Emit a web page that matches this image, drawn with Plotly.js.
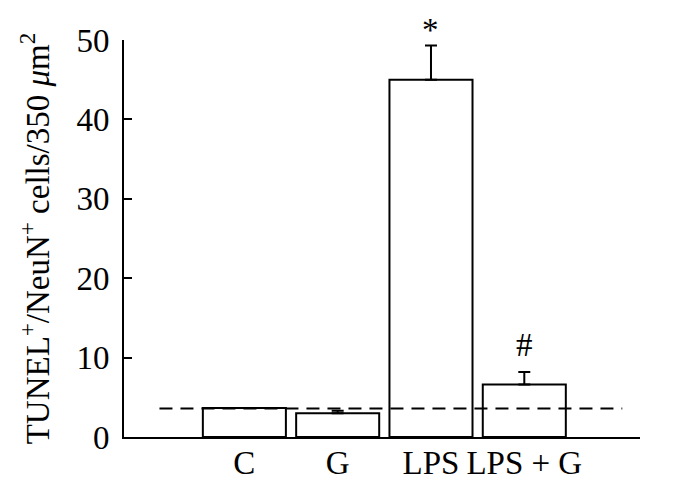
<!DOCTYPE html>
<html>
<head>
<meta charset="utf-8">
<script src="https://cdn.plot.ly/plotly-3.0.1.min.js"></script>
<style>html,body{margin:0;padding:0;background:#fff;}</style>
</head>
<body>
<div id="chart" style="width:696px;height:492px;"></div>
<script>
const categories = ["C", "G", "LPS", "LPS + G"];
const values = [3.65, 3.0, 45.0, 6.6];
const errorsUp = [0, 0.3, 4.3, 1.6];
const markers = ["", "", "*", "#"];
const baselineLevel = 3.6;
const yTicks = [0, 10, 20, 30, 40, 50];

const font = "Liberation Serif";
const fs = 33;

const trace = {
  type: "bar",
  x: [0, 1, 2, 3],
  y: values,
  width: 0.89,
  marker: {color: "#ffffff", line: {color: "#000000", width: 2}},
  error_y: {type: "data", symmetric: false, array: errorsUp, arrayminus: errorsUp.map(() => 0),
            color: "#000000", thickness: 2, width: 6},
  hoverinfo: "skip"
};

const annotations = markers.map((m, i) => m ? {
  x: i, y: values[i] + errorsUp[i], xref: "x", yref: "y",
  text: m, showarrow: false, yanchor: "middle", yshift: m === "*" ? 16 : 27,
  font: {family: font, size: fs, color: "#000"}
} : null).filter(a => a);

const layout = {
  width: 696, height: 492,
  margin: {l: 124, r: 56, t: 40, b: 55},
  paper_bgcolor: "#fff", plot_bgcolor: "#fff",
  showlegend: false,
  font: {family: font, color: "#000"},
  xaxis: {
    range: [-1.29, 4.24],
    tickmode: "array", tickvals: [0, 1, 2, 3], ticktext: categories,
    showgrid: false, zeroline: false, showline: true, linecolor: "#000", linewidth: 2,
    ticks: "", ticklen: 0, ticklabelstandoff: -5,
    tickfont: {family: font, size: fs, color: "#000"}
  },
  yaxis: {
    range: [0, 50],
    tickmode: "array", tickvals: yTicks,
    showgrid: false, zeroline: false, showline: true, linecolor: "#000", linewidth: 2,
    ticks: "inside", ticklen: 8, tickwidth: 2, tickcolor: "#000",
    ticklabelstandoff: 6,
    tickfont: {family: font, size: fs, color: "#000"},
    title: {text: "TUNEL<sup>+</sup>/NeuN<sup>+</sup> cells/350 <i>μ</i>m<sup>2</sup>",
            font: {family: font, size: fs, color: "#000"}, standoff: 17}
  },
  shapes: [{
    type: "line", xref: "x", yref: "y",
    x0: -0.91, x1: 4.05, y0: baselineLevel, y1: baselineLevel,
    line: {color: "#000", width: 2, dash: "13px,8px"}, layer: "above"
  }],
  annotations: annotations
};

Plotly.newPlot("chart", [trace], layout, {displayModeBar: false, staticPlot: true});
</script>
</body>
</html>
